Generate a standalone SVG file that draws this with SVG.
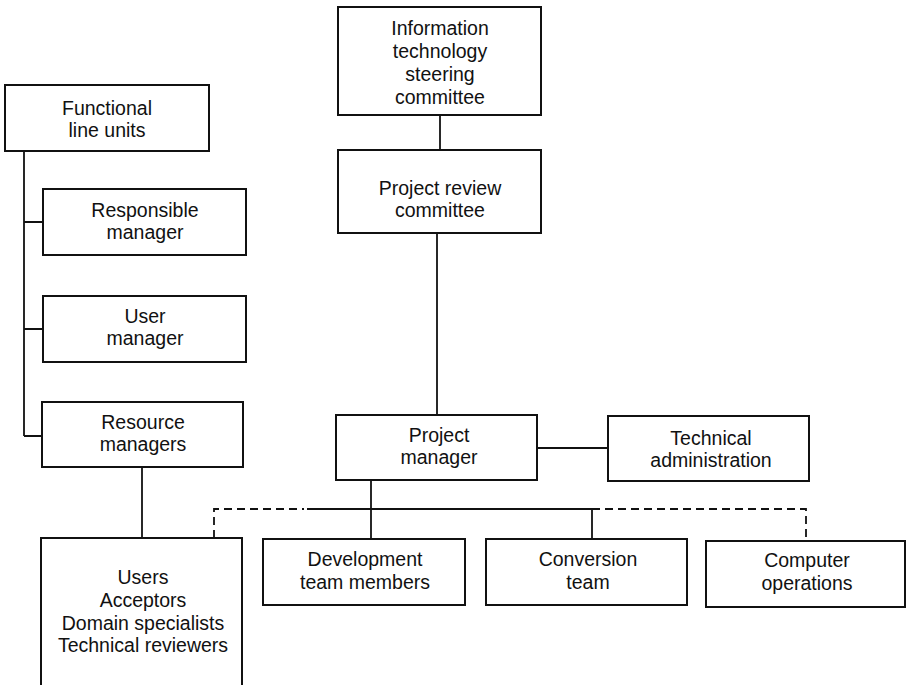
<svg xmlns="http://www.w3.org/2000/svg" width="908" height="685" viewBox="0 0 908 685">
  <style>
    .box { fill: #ffffff; stroke: #111111; stroke-width: 2; }
    .ln { fill: none; stroke: #111111; stroke-width: 1.8; }
    .dash { fill: none; stroke: #111111; stroke-width: 1.8; stroke-dasharray: 8 5; }
    text { font-family: "Liberation Sans", Arial, sans-serif; font-size: 19.5px; fill: #111111; text-anchor: middle; }
  </style>
  <rect width="908" height="685" fill="#ffffff"/>

  <g id="connectors">
    <!-- functional line units spine -->
    <path class="ln" d="M24 151 V436 M24 222 H43 M24 329 H43 M24 436 H42"/>
    <path class="ln" d="M142 467 V538"/>
    <!-- committee chain -->
    <path class="ln" d="M440 115 V150"/>
    <path class="ln" d="M437 233 V415"/>
    <path class="ln" d="M537 448 H608"/>
    <!-- project team bus -->
    <path class="ln" d="M371 480 V539"/>
    <path class="ln" d="M307 509 H592 V539"/>
    <path class="dash" d="M214 538 V509 H304"/>
    <path class="dash" d="M592 509 H806 V541"/>
  </g>

  <g id="functional-line-units">
    <rect class="box" x="5" y="85" width="204" height="66"/>
    <text x="107" y="115">Functional</text>
    <text x="107" y="137">line units</text>
  </g>
  <g id="responsible-manager">
    <rect class="box" x="43" y="189" width="203" height="66"/>
    <text x="145" y="217">Responsible</text>
    <text x="145" y="239">manager</text>
  </g>
  <g id="user-manager">
    <rect class="box" x="43" y="296" width="203" height="66"/>
    <text x="145" y="323">User</text>
    <text x="145" y="345">manager</text>
  </g>
  <g id="resource-managers">
    <rect class="box" x="42" y="402" width="201" height="65"/>
    <text x="143" y="429">Resource</text>
    <text x="143" y="451">managers</text>
  </g>
  <g id="users">
    <path class="box" d="M41 690 V538 H242 V690"/>
    <text x="143" y="584">Users</text>
    <text x="143" y="607">Acceptors</text>
    <text x="143" y="630">Domain specialists</text>
    <text x="143" y="652">Technical reviewers</text>
  </g>

  <g id="it-steering-committee">
    <rect class="box" x="338" y="7" width="203" height="108"/>
    <text x="440" y="35">Information</text>
    <text x="440" y="58">technology</text>
    <text x="440" y="81">steering</text>
    <text x="440" y="104">committee</text>
  </g>
  <g id="project-review-committee">
    <rect class="box" x="338" y="150" width="203" height="83"/>
    <text x="440" y="195">Project review</text>
    <text x="440" y="217">committee</text>
  </g>
  <g id="project-manager">
    <rect class="box" x="336" y="415" width="201" height="65"/>
    <text x="439" y="442">Project</text>
    <text x="439" y="464">manager</text>
  </g>
  <g id="technical-administration">
    <rect class="box" x="608" y="416" width="201" height="65"/>
    <text x="711" y="445">Technical</text>
    <text x="711" y="467">administration</text>
  </g>

  <g id="development-team">
    <rect class="box" x="263" y="539" width="202" height="66"/>
    <text x="365" y="566">Development</text>
    <text x="365" y="589">team members</text>
  </g>
  <g id="conversion-team">
    <rect class="box" x="486" y="539" width="201" height="66"/>
    <text x="588" y="566">Conversion</text>
    <text x="588" y="589">team</text>
  </g>
  <g id="computer-operations">
    <rect class="box" x="706" y="541" width="199" height="66"/>
    <text x="807" y="567">Computer</text>
    <text x="807" y="590">operations</text>
  </g>
</svg>
